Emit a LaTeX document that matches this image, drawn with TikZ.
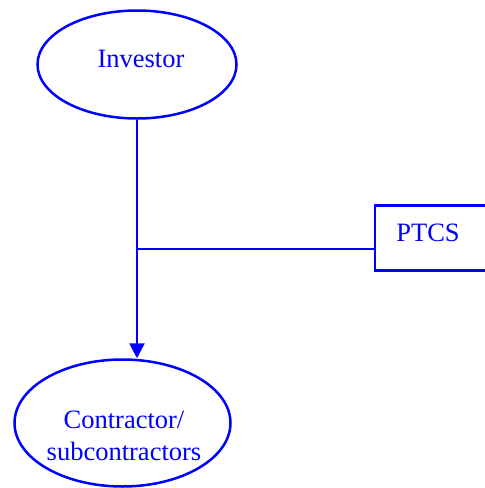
\documentclass[tikz,border=0pt]{standalone}
\usepackage{fontspec}
\setmainfont{Liberation Serif}
\usetikzlibrary{shapes.geometric,arrows.meta}
\definecolor{dblue}{RGB}{0,0,255}
\tikzset{
  ell/.style={ellipse, draw=dblue, line width=2.5pt, inner sep=0pt},
  box/.style={rectangle, draw=dblue, line width=2.5pt, inner sep=0pt},
  lbl/.style={text=dblue, inner sep=0pt, font=\fontsize{26.5}{32}\selectfont},
  conn/.style={draw=dblue, line width=2.5pt},
  arr/.style={conn, -{Triangle[length=15pt,width=15pt]}}
}
\begin{document}
\begin{tikzpicture}[x=1pt,y=-1pt]
\useasboundingbox (0,0) rectangle (485,488);
\node[ell, minimum width=199pt, minimum height=108pt] (inv) at (137,64.5) {};
\node[lbl] (invt) at (141,58.5) {Investor};
\node[ell, minimum width=216pt, minimum height=127pt] (con) at (122.5,423) {};
\node[lbl, align=center] (cont) at (124,435.5) {Contractor/\\subcontractors};
\node[box, minimum width=120pt, minimum height=65pt] (ptcs) at (435,238) {};
\node[lbl] (ptcst) at (428,232.5) {PTCS};
\coordinate (j) at (137,249);
\draw[arr] (inv.south) -- (inv.south |- con.north);
\draw[conn] (j) -- (j -| ptcs.west);
\end{tikzpicture}
\end{document}
